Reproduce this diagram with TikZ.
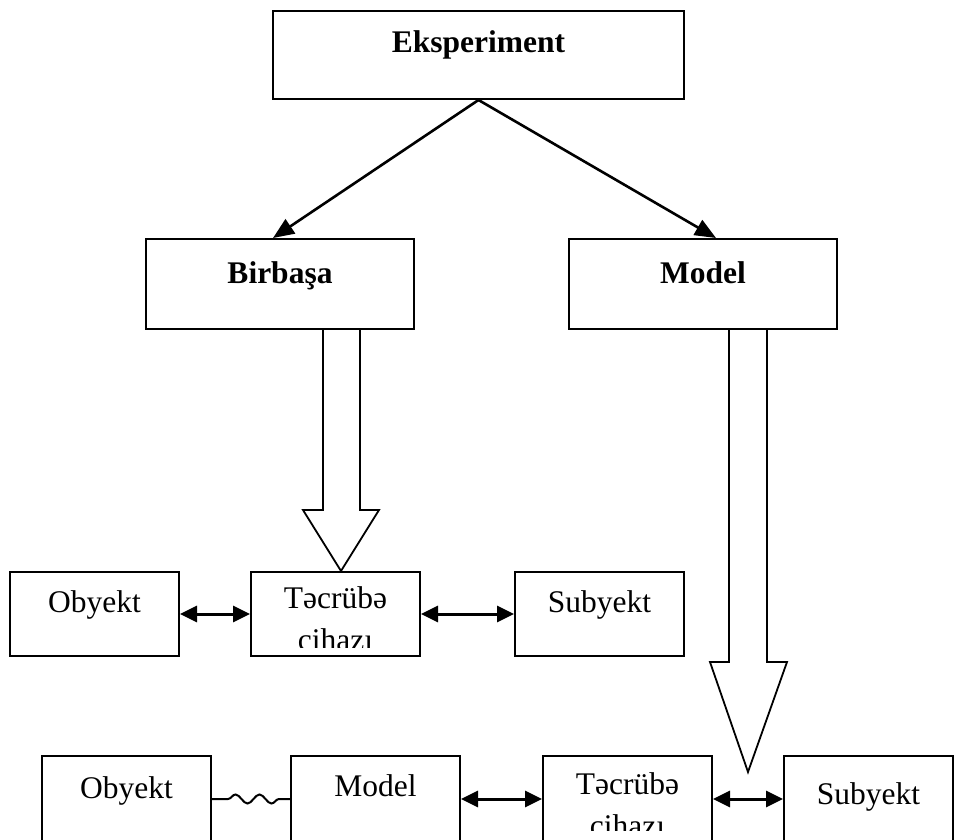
\documentclass[tikz,border=0pt]{standalone}
\usepackage{fontspec}
\setmainfont{Liberation Serif}
\usetikzlibrary{
  arrows.meta,%
  calc,%
  % wavy link
  decorations.pathmorphing
}
\tikzset{>={Triangle[length=17pt,width=16pt]}}
\tikzset{font=\fontsize{31.5}{38}\selectfont}
\tikzset{box/.style={draw, line width=2pt, inner sep=0pt, anchor=north west,
    minimum width=169pt, text height=40pt, text depth=44pt}}
\tikzset{headbox/.style={box, font=\fontsize{31.5}{38}\selectfont\bfseries,
    minimum width=268pt, text height=44pt, text depth=46pt}}
\tikzset{link/.style={<->, line width=3pt}}
\tikzset{hollow/.style={draw, line width=1.8pt, line join=miter}}

\begin{document}
\begin{tikzpicture}[x=1pt,y=-1pt]
  \useasboundingbox (0,0) rectangle (954,840);
  \clip (0,0) rectangle (954,840);
  % top levels
  \node[headbox, minimum width=411pt, text height=42pt] (eks) at (272,10) {Eksperiment};
  \node[headbox] (bir) at (145,238) {Birbaşa};
  \node[headbox] (mod) at (568,238) {Model};
  \draw[-{Triangle[length=21pt,width=17pt]}, line width=2.6pt] (eks.south) -- ($(bir.north)+(-7,0)$);
  \draw[-{Triangle[length=21pt,width=17pt]}, line width=2.6pt] (eks.south) -- ($(mod.north)+(13,0)$);
  % first row
  \node[box] (obj1) at (9,571) {Obyekt};
  \node[box, text height=37pt, text depth=47pt] (cih1) at (250,571) {};
  \node[box] (sub1) at (514,571) {Subyekt};
  \begin{scope}
    \clip (cih1.north west) rectangle ($(cih1.south east)+(0,-10)$);
    \node[anchor=base] (cih1a) at ($(cih1.north)+(0,37)$) {Təcrübə};
    \node[anchor=base] (cih1b) at ($(cih1.north)+(0,79)$) {cihazı};
  \end{scope}
  \draw[link] (obj1) -- (cih1);
  \draw[link] (cih1) -- (sub1);
  % second row
  \node[box, text height=42pt, text depth=44pt] (obj2) at (41,755) {Obyekt};
  \node[box, text height=40pt, text depth=46pt] (mod2) at (290,755) {Model};
  \node[box, text height=39pt, text depth=47pt] (cih2) at (542,755) {};
  \node[box, text height=48pt, text depth=38pt] (sub2) at (783,755) {Subyekt};
  \begin{scope}
    \clip (cih2.north west) rectangle ($(cih2.south east)+(0,-13)$);
    \node[anchor=base] (cih2a) at ($(cih2.north)+(0,39)$) {Təcrübə};
    \node[anchor=base] (cih2b) at ($(cih2.north)+(0,81)$) {cihazı};
  \end{scope}
  \draw[line width=2pt, decorate, decoration={snake, amplitude=4.5pt,
      segment length=24pt, pre length=16pt, post length=10pt}] (obj2) -- (mod2);
  \draw[link] (mod2) -- (cih2);
  \draw[link] (cih2) -- (sub2);
  % wide hollow arrows
  \draw[hollow] (323,0 |- bir.south) -- (323,510) -- (303,510) -- (341,0 |- cih1.north)
    -- (379,510) -- (360,510) -- (360,0 |- bir.south);
  \draw[hollow] (729,0 |- mod.south) -- (729,662) -- (710,662) -- (748,772)
    -- (787,662) -- (767,662) -- (767,0 |- mod.south);
\end{tikzpicture}
\end{document}
